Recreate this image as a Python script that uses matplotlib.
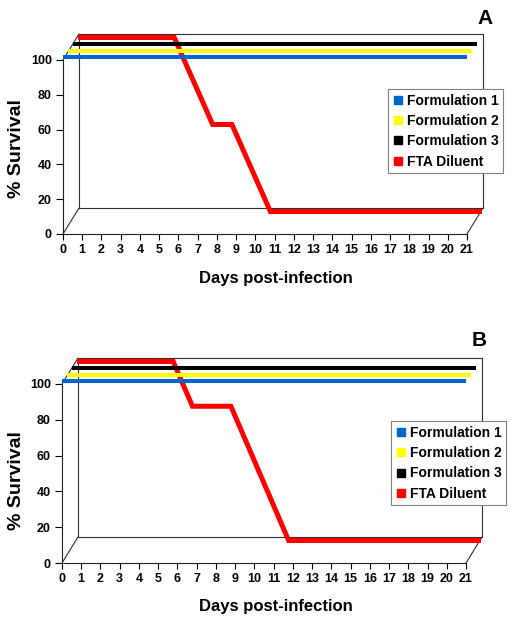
import matplotlib
matplotlib.use('Agg')
import matplotlib.pyplot as plt
from matplotlib.transforms import ScaledTranslation
from matplotlib.patches import ConnectionPatch
from matplotlib.lines import Line2D

plt.rcParams['font.family'] = ['Liberation Sans', 'DejaVu Sans']
plt.rcParams['font.weight'] = 'bold'

days = list(range(22))
formulation_1 = [100] * 22
formulation_2 = [100] * 22
formulation_3 = [100] * 22
fta_a = [100, 100, 100, 100, 100, 100, 75, 50, 50, 25, 0, 0, 0, 0, 0, 0, 0, 0, 0, 0, 0, 0]
fta_b = [100, 100, 100, 100, 100, 100, 75, 75, 75, 50, 25, 0, 0, 0, 0, 0, 0, 0, 0, 0, 0, 0]

series_names = ['Formulation 1', 'Formulation 2', 'Formulation 3', 'FTA Diluent']
colors = ['#0066CC', '#FFFF00', '#000000', '#FF0000']
# pixel offsets (dx, dy) giving the 3-D depth look
depth = [(0, 3), (5, 9.5), (10, 16), (15, 22.5)]
wall = (16, 26)
widths = [2.9, 2.9, 2.9, 3.6]

fig = plt.figure(figsize=(5.18, 6.29), dpi=100)


def offset(ax, d):
    return ax.transData + ScaledTranslation(d[0] / 100, d[1] / 100, fig.dpi_scale_trans)


def panel(rect, fta, letter, letter_xy, leg_xy, ylab_y, xlab_y):
    ax = fig.add_axes(rect)
    ax.set_xlim(0, 21)
    ax.set_ylim(0, 100)
    ax.patch.set_visible(False)
    for s in ['top', 'right']:
        ax.spines[s].set_visible(False)
    for s in ['left', 'bottom']:
        ax.spines[s].set_linewidth(0.8)
        ax.spines[s].set_color('#202020')
    ax.set_xticks(days)
    ax.set_xticklabels([str(d) for d in days], fontsize=9, fontweight='bold')
    ax.set_yticks([0, 20, 40, 60, 80, 100])
    ax.set_yticklabels(['0', '20', '40', '60', '80', '100'], fontsize=9, fontweight='bold')
    ax.tick_params(axis='x', direction='out', length=4, width=0.8, pad=3)
    ax.tick_params(axis='y', direction='out', length=5, width=0.8, pad=3)

    # back wall
    wt = offset(ax, wall)
    ax.plot([0, 0, 21, 21, 0], [0, 100, 100, 0, 0], color='#303030', lw=0.8,
            transform=wt, clip_on=False)
    for xy in [(0, 0), (21, 0), (0, 100)]:
        ax.add_artist(ConnectionPatch(xyA=xy, coordsA=ax.transData, xyB=xy, coordsB=wt,
                                      color='#303030', lw=0.8))

    data = [formulation_1, formulation_2, formulation_3, fta]
    for i in [3, 2, 1, 0]:
        ax.plot(days, data[i], color=colors[i], lw=widths[i], transform=offset(ax, depth[i]),
                clip_on=False, solid_joinstyle='miter', solid_capstyle='butt', zorder=3 + (3 - i))

    handles = [Line2D([], [], marker='s', ls='none', color=c, markersize=6) for c in colors]
    leg = fig.legend(handles, series_names, loc='upper left',
                     bbox_to_anchor=(leg_xy[0] / 518, 1 - leg_xy[1] / 629),
                     prop={'size': 10, 'weight': 'bold'}, frameon=True, fancybox=False,
                     edgecolor='#808080', framealpha=1, handlelength=0.7, handletextpad=0.3,
                     borderpad=0.35, labelspacing=0.45, borderaxespad=0)
    leg.get_frame().set_linewidth(0.8)

    fig.text(letter_xy[0] / 518, 1 - letter_xy[1] / 629, letter, fontsize=15,
             fontweight='bold', ha='center', va='center')
    fig.text(17 / 518, 1 - ylab_y / 629, '% Survival', fontsize=14, fontweight='bold',
             rotation=90, ha='center', va='center')
    fig.text(276 / 518, 1 - xlab_y / 629, 'Days post-infection', fontsize=12,
             fontweight='bold', ha='center', va='center')


panel([63 / 518, 395 / 629, 404 / 518, 174 / 629], fta_a, 'A', (485, 18), (388, 89), 149, 278)
panel([62 / 518, 66 / 629, 404 / 518, 179 / 629], fta_b, 'B', (479, 340), (391, 421), 481, 607)

fig.savefig('out.png', dpi=100)
